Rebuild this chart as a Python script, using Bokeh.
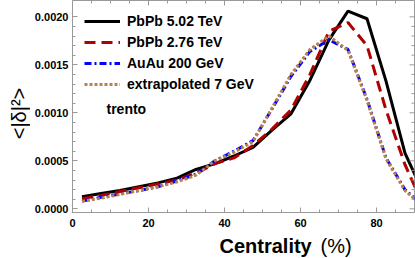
import math
from bokeh.plotting import figure
from bokeh.models import (ColumnDataSource, Range1d, FixedTicker, PrintfTickFormatter,
                          Legend, LegendItem, Label)
from bokeh.layouts import column, row
from bokeh.embed import file_html
from bokeh.resources import INLINE

# ---- data ----
centrality = [2.5, 7.5, 12.5, 17.5, 22.5, 27.5, 32.5, 37.5, 42.5, 47.5,
              52.5, 57.5, 62.5, 67.5, 72.5, 77.5, 82.5, 87.5, 92.5]
pbpb_502 = [0.000125, 0.00016, 0.00019, 0.00023, 0.00027, 0.00032, 0.00041, 0.00047, 0.00055, 0.00064,
            0.00082, 0.00099, 0.00134, 0.00176, 0.00206, 0.00198, 0.00133, 0.00058, 0.00015]
pbpb_276 = [0.000105, 0.00014, 0.00018, 0.00022, 0.00026, 0.00030, 0.00037, 0.00047, 0.00053, 0.00066,
            0.00083, 0.00103, 0.00140, 0.00185, 0.00194, 0.00170, 0.00103, 0.00046, 0.00002]
auau_200 = [0.00008, 0.00012, 0.000155, 0.00019, 0.00023, 0.00029, 0.00036, 0.00050, 0.00060, 0.00071,
            0.00104, 0.00138, 0.00164, 0.00176, 0.00166, 0.00114, 0.00053, 0.00020, 0.00002]
extrap_7 = [0.00008, 0.00011, 0.00015, 0.00019, 0.00023, 0.00028, 0.00035, 0.00050, 0.00059, 0.00070,
            0.00105, 0.00140, 0.00166, 0.00180, 0.00165, 0.00113, 0.00052, 0.00019, 0.00002]

series_names = ["PbPb 5.02 TeV", "PbPb 2.76 TeV", "AuAu 200 GeV", "extrapolated 7 GeV"]
x_ticks = [0, 20, 40, 60, 80]
x_minor = [5, 10, 15, 25, 30, 35, 45, 50, 55, 65, 70, 75, 85]
y_ticks = [0.0, 0.0005, 0.0010, 0.0015, 0.0020]
y_minor = [0.0001, 0.0002, 0.0003, 0.0004, 0.0006, 0.0007, 0.0008, 0.0009,
           0.0011, 0.0012, 0.0013, 0.0014, 0.0016, 0.0017, 0.0018, 0.0019]

FONT = "Liberation Sans"
GRAY = "#9a9a9a"

X0, X1 = 0, 90
Y0, Y1 = -0.0000385, 0.00217
W_STRIP = 30
W, H_MAIN, H_LAB = 385, 232, 26
BL, BR, BT, BB = 42, 1, 0, 20
FW, FH = W - BL - BR, H_MAIN - BT - BB

p = figure(width=W, height=H_MAIN, output_backend="svg", toolbar_location=None,
           x_range=Range1d(X0, X1), y_range=Range1d(Y0, Y1),
           min_border_left=BL, min_border_right=BR, min_border_top=BT, min_border_bottom=BB)
p.grid.visible = False
p.outline_line_color = GRAY
p.outline_line_width = 1
p.background_fill_color = "white"
p.border_fill_color = "white"

src = ColumnDataSource(dict(x=centrality, a=pbpb_502, b=pbpb_276, c=auau_200, d=extrap_7))
r1 = p.line("x", "a", source=src, line_color="black", line_width=3)
r2 = p.line("x", "b", source=src, line_color="#b00000", line_width=3, line_dash="11 6")
r3 = p.line("x", "c", source=src, line_color="#0000ff", line_width=3, line_dash="7 3 2 3")
r4 = p.line("x", "d", source=src, line_color="#b5834f", line_width=3, line_dash="3 2")

def style_axis(ax, ticks, minor):
    ax.ticker = FixedTicker(ticks=ticks, minor_ticks=minor)
    ax.axis_line_color = GRAY
    ax.major_tick_line_color = GRAY
    ax.minor_tick_line_color = GRAY
    ax.major_tick_in = 5
    ax.major_tick_out = 0
    ax.minor_tick_in = 3
    ax.minor_tick_out = 0
    ax.major_label_text_font = FONT
    ax.major_label_text_font_style = "bold"
    ax.major_label_text_font_size = "11px"
    ax.major_label_text_color = "black"

xa = p.xaxis[0]
style_axis(xa, x_ticks, x_minor)
xa.major_label_standoff = 6

ya = p.yaxis[0]
style_axis(ya, y_ticks, y_minor)
ya.formatter = PrintfTickFormatter(format="%.4f")
ya.major_label_standoff = 4

# inward ticks on the top and right frame edges (mirrors of the bottom/left tickers)
dx = (X1 - X0) / FW
dy = (Y1 - Y0) / FH
top_x = x_ticks + x_minor
top_len = [5 * dy] * len(x_ticks) + [3 * dy] * len(x_minor)
p.segment(x0=top_x, x1=top_x, y0=[Y1] * len(top_x), y1=[Y1 - l for l in top_len],
          line_color=GRAY, line_width=1)
right_y = y_ticks + y_minor
right_len = [5 * dx] * len(y_ticks) + [3 * dx] * len(y_minor)
p.segment(x0=[X1] * len(right_y), x1=[X1 - l for l in right_len], y0=right_y, y1=right_y,
          line_color=GRAY, line_width=1)

legend = Legend(items=[LegendItem(label=n, renderers=[r]) for n, r in zip(series_names, [r1, r2, r3, r4])],
                location=(12, 118), border_line_color=None, background_fill_alpha=0,
                padding=0, margin=0, spacing=1, glyph_width=36, glyph_height=20,
                label_height=20, label_standoff=7, label_text_font=FONT,
                label_text_font_style="bold", label_text_font_size="14px",
                label_text_color="black")
p.add_layout(legend)

p.add_layout(Label(x=34, y=104, x_units="screen", y_units="screen", text="trento",
                   text_font=FONT, text_font_style="bold", text_font_size="14px",
                   text_color="black", text_baseline="middle", text_align="left"))

def strip(width, height):
    f = figure(width=width, height=height, output_backend="svg", toolbar_location=None,
               x_axis_type=None, y_axis_type=None, x_range=Range1d(0, width), y_range=Range1d(0, height),
               min_border=0, min_border_left=0, min_border_right=0, min_border_top=0, min_border_bottom=0)
    f.grid.visible = False
    f.outline_line_color = None
    f.background_fill_color = "white"
    f.border_fill_color = "white"
    return f

# x-axis title strip (bold "Centrality", regular "(%)")
q = strip(W, H_LAB)
q.add_layout(Label(x=147, y=13, x_units="screen", y_units="screen", text="Centrality",
                   text_font=FONT, text_font_style="bold", text_font_size="20px",
                   text_color="black", text_baseline="middle", text_align="left"))
q.add_layout(Label(x=248, y=13, x_units="screen", y_units="screen", text="(%)",
                   text_font=FONT, text_font_style="normal", text_font_size="20px",
                   text_color="black", text_baseline="middle", text_align="left"))

# y-axis title strip
s = strip(W_STRIP, H_MAIN + H_LAB)
s.add_layout(Label(x=18.5, y=H_MAIN + H_LAB - 113, x_units="screen", y_units="screen", text="<|δ|²>",
                   angle=math.pi / 2, text_font=FONT, text_font_style="normal", text_font_size="20px",
                   text_color="black", text_baseline="middle", text_align="center"))

layout = row(s, column(p, q, spacing=0), spacing=0)
open("out.html", "w").write(file_html(layout, INLINE))
